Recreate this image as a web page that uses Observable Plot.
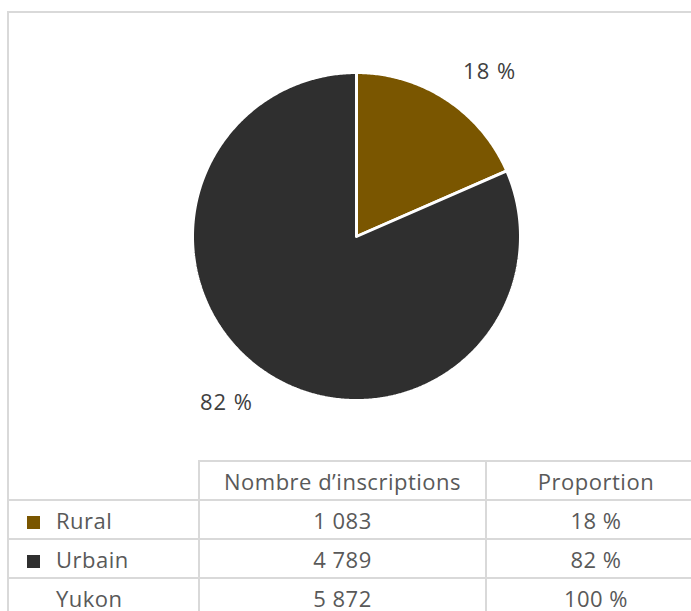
<!DOCTYPE html>
<html>
<head>
<meta charset="utf-8">
<script src="https://cdn.jsdelivr.net/npm/d3@7"></script>
<script src="https://cdn.jsdelivr.net/npm/@observablehq/plot@0.6"></script>
<style>
  html, body { margin: 0; padding: 0; background: #fff; }
  #wrap { position: relative; width: 691px; height: 611px; overflow: hidden; font-family: "Open Sans", Lato, sans-serif; color: #595959; }
  #frame { position: absolute; left: 7px; top: 11px; width: 700px; height: 620px; border-left: 2px solid #d9d9d9; border-top: 2px solid #d9d9d9; box-sizing: border-box; }
  #chart { position: absolute; left: 0; top: 0; }
  table { position: absolute; left: 7px; top: 460px; border-collapse: collapse; font-size: 22px; letter-spacing: 0.5px; table-layout: fixed; }
  td { height: 37px; border: 2px solid #d9d9d9; text-align: center; padding: 0; white-space: nowrap; }
  td.c1 { text-align: left; }
  td.blank { border-top: none; border-left: none; }
  .sw { display: inline-block; width: 13px; height: 13px; margin: 0 16px 0 18px; vertical-align: 0px; }
  .nosw { display: inline-block; width: 13px; margin: 0 16px 0 18px; }
</style>
</head>
<body>
<div id="wrap">
  <div id="frame"></div>
  <div id="chart"></div>
</div>
<script>
const categories = ["Rural", "Urbain"];
const counts = [1083, 4789];
const totalLabel = "Yukon";
const totalCount = 5872;
const proportionLabels = ["18 %", "82 %"];
const totalProportion = "100 %";
const headers = ["Nombre d’inscriptions", "Proportion"];
const colors = ["#7a5600", "#2f2f2f"];

const fmt = n => d3.format(",")(n).replace(/,/g, " ");

// Build pie slices from data
const pie = d3.pie().sort(null).value(d => d.count)(categories.map((c, i) => ({name: c, count: counts[i]})));
const pts = [];
const labels = [];
pie.forEach((s, i) => {
  const name = s.data.name;
  pts.push({name, x: 0, y: 0});
  const n = Math.max(2, Math.ceil((s.endAngle - s.startAngle) / 0.01));
  for (let k = 0; k <= n; k++) {
    const a = s.startAngle + (s.endAngle - s.startAngle) * k / n;
    pts.push({name, x: Math.sin(a), y: Math.cos(a)});
  }
  pts.push({name, x: 0, y: 0});
  const mid = (s.startAngle + s.endAngle) / 2;
  labels.push({name, label: proportionLabels[i], x: Math.sin(mid) * 1.22, y: Math.cos(mid) * 1.22,
    anchor: Math.sin(mid) >= 0 ? "start" : "end"});
});

const cx = 356, cy = 236, r = 164;
const labelStyle = {x: "x", y: "y", text: "label", fontSize: 22, fill: "#404040",
  fontFamily: "'Open Sans', Lato, sans-serif", letterSpacing: "1px"};
const plot = Plot.plot({
  width: 691,
  height: 450,
  margin: 0,
  x: {domain: [-1, 1], range: [cx - r, cx + r], axis: null},
  y: {domain: [-1, 1], range: [cy + r, cy - r], axis: null},
  color: {domain: categories, range: colors},
  style: {background: "transparent", overflow: "visible"},
  marks: [
    Plot.line(pts, {x: "x", y: "y", z: "name", fill: "name", stroke: "white", strokeWidth: 3, strokeLinejoin: "miter", curve: "linear"}),
    Plot.text(labels.filter(d => d.anchor === "start"), {...labelStyle, textAnchor: "start", dx: -3, dy: 3}),
    Plot.text(labels.filter(d => d.anchor === "end"), {...labelStyle, textAnchor: "end", dx: 6, dy: -1})
  ]
});
plot.querySelectorAll("text").forEach(t => t.style.letterSpacing = "1px");
document.getElementById("chart").appendChild(plot);

// Data table
const table = document.createElement("table");
let html = `<colgroup><col style="width:191px"><col style="width:287px"><col style="width:220px"></colgroup>`;
html += `<tr><td class="c1 blank"></td><td class="c2">${headers[0]}</td><td class="c3">${headers[1]}</td></tr>`;
categories.forEach((c, i) => {
  html += `<tr><td class="c1"><span class="sw" style="background:${colors[i]}"></span>${c}</td><td class="c2">${fmt(counts[i])}</td><td class="c3">${proportionLabels[i]}</td></tr>`;
});
html += `<tr><td class="c1"><span class="nosw"></span>${totalLabel}</td><td class="c2">${fmt(totalCount)}</td><td class="c3">${totalProportion}</td></tr>`;
table.innerHTML = html;
table.style.width = "698px";
document.getElementById("wrap").appendChild(table);
</script>
</body>
</html>
